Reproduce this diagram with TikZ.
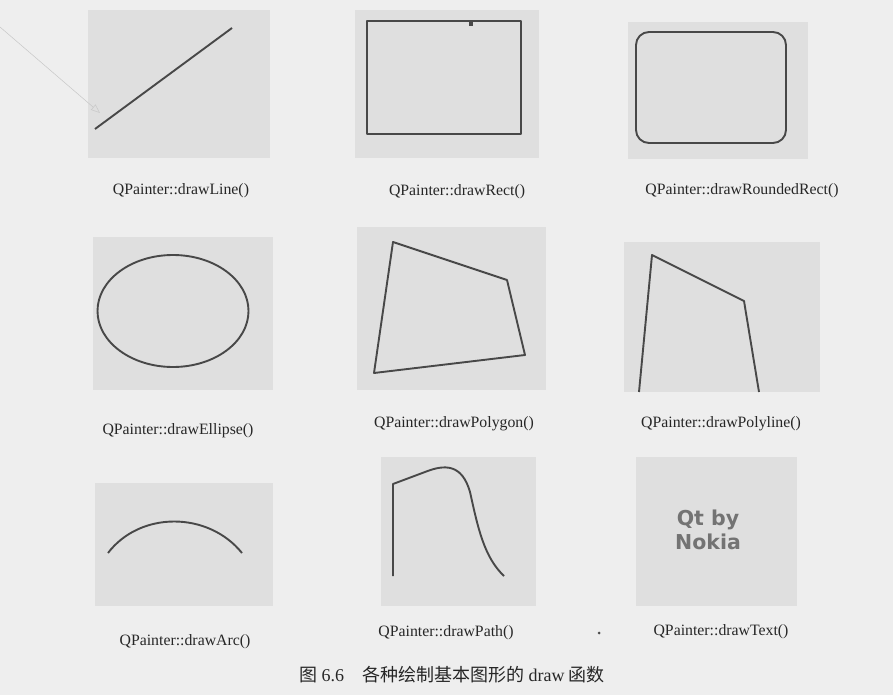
\documentclass[tikz,border=0pt]{standalone}
\usepackage{fontspec}
\setmainfont{Liberation Serif}
\newfontfamily\cjk{Noto Sans CJK SC}
\newfontfamily\qtfont{DejaVu Sans}
\usetikzlibrary{arrows.meta}
\definecolor{paper}{RGB}{238,238,238}
\definecolor{panelgray}{RGB}{223,223,223}
\definecolor{ink}{RGB}{72,72,72}

\begin{document}
\begin{tikzpicture}[x=1pt, y=-1pt,
  panel/.style={fill=panelgray},
  figline/.style={draw=ink, line width=1.9pt, line join=round},
  figcap/.style={font=\fontsize{15.8}{18}\selectfont, text=black!85, inner sep=0pt}]
\fill[paper] (0,0) rectangle (893,695);
\useasboundingbox (0,0) rectangle (893,695);
% panels
\fill[panel] (88,10) rectangle (270,158);
\fill[panel] (355,10) rectangle (539,158);
\fill[panel] (628,22) rectangle (808,159);
\fill[panel] (93,237) rectangle (273,390);
\fill[panel] (357,227) rectangle (546,390);
\fill[panel] (624,242) rectangle (820,392);
\fill[panel] (95,483) rectangle (273,606);
\fill[panel] (381,457) rectangle (536,606);
\fill[panel] (636,457) rectangle (797,606);
% pencil mark
\draw[black!22, line width=0.5pt, -{Triangle[open,length=9pt,width=7pt]}] (0,27) -- (100,113);
% shapes
\draw[figline] (95,129) -- (232,28);
\draw[figline, line width=2.3pt] (367,21) rectangle (521,134);
\fill[ink] (469,22) rectangle (473,26);
\draw[figline, rounded corners=13pt] (636,32) rectangle (786,143);
\draw[figline] (173,311) ellipse [x radius=75.5, y radius=56];
\draw[figline] (393,242) -- (507,280) -- (525,355) -- (374,373) -- cycle;
\draw[figline] (639,392) -- (652,255) -- (744,301) -- (759,392);
\draw[figline] (108,553) .. controls (140,511) and (208,511) .. (242,553);
\draw[figline] (393,576) -- (393,484) -- (425,472)
  .. controls (445,464) and (462,464) .. (470,492)
  .. controls (478,528) and (484,557) .. (504,576);
\node[font=\qtfont\bfseries\fontsize{20.5}{24}\selectfont, text=black!55, align=center, inner sep=0pt] (qt) at (708,530) {Qt by\\Nokia};
\fill[black!70] (599,633) circle (1.5);
% captions
\node[figcap] (c1) at (181,191) {QPainter::drawLine()};
\node[figcap] (c2) at (457,192) {QPainter::drawRect()};
\node[figcap] (c3) at (742,191) {QPainter::drawRoundedRect()};
\node[figcap] (c4) at (178,431) {QPainter::drawEllipse()};
\node[figcap] (c5) at (454,424) {QPainter::drawPolygon()};
\node[figcap] (c6) at (721,424) {QPainter::drawPolyline()};
\node[figcap] (c7) at (185,642) {QPainter::drawArc()};
\node[figcap] (c8) at (446,633) {QPainter::drawPath()};
\node[figcap] (c9) at (721,632) {QPainter::drawText()};
\node[figcap, font=\fontsize{18}{20}\selectfont] (fig) at (452,675) {{\cjk 图} 6.6\quad{\cjk 各种绘制基本图形的} draw {\cjk 函数}};
\end{tikzpicture}
\end{document}
